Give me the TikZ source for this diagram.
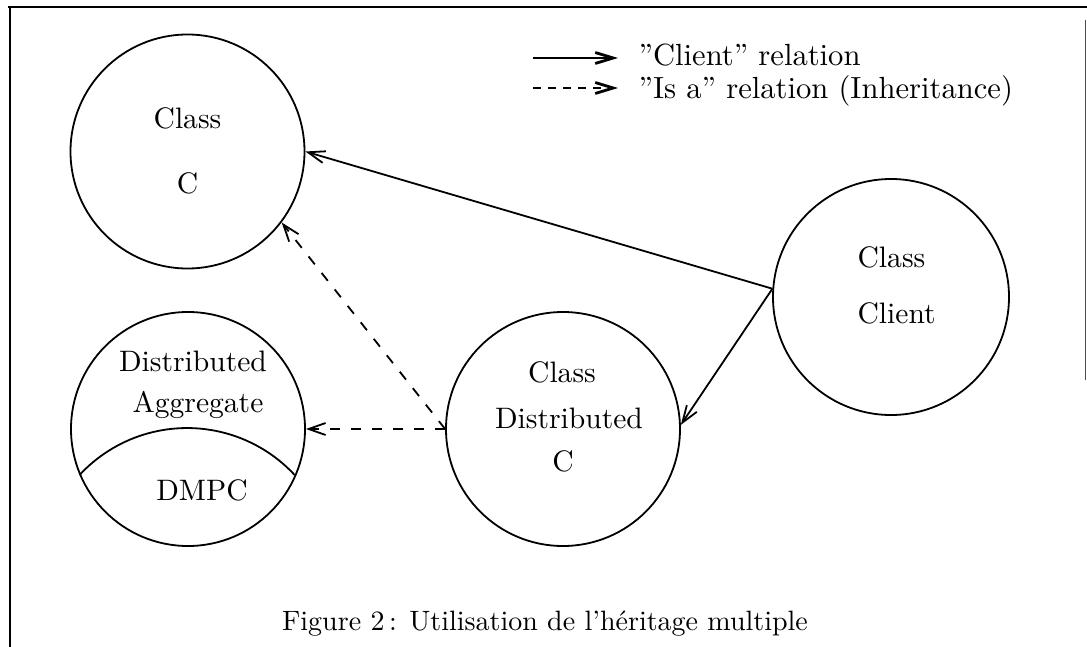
\documentclass[tikz,border=0pt]{standalone}
\usetikzlibrary{arrows.meta}
\begin{document}
\begin{tikzpicture}[x=0.5pt,y=-0.5pt,
  font=\fontsize{10}{12}\selectfont,
  cls/.style={circle,draw,line width=0.9pt,minimum size=117pt,inner sep=0pt},
  lbl/.style={anchor=base,inner sep=0pt,scale=1.48},
  client/.style={line width=0.9pt,-{Straight Barb[length=8.5pt,width=6pt]}},
  isa/.style={line width=0.9pt,dash pattern=on 5pt off 5.5pt,-{Straight Barb[length=8.5pt,width=6pt]}},
  legclient/.style={line width=1pt,-{Straight Barb[length=9pt,width=5.5pt,line width=1.4pt]}},
  legisa/.style={line width=1pt,dash pattern=on 4pt off 3.5pt,-{Straight Barb[length=9pt,width=5.5pt,line width=1.4pt]}},
  legtxt/.style={anchor=base west,inner sep=0pt,scale=1.53}]
\useasboundingbox (0,0) rectangle (1087,647);
% frame
\draw[line width=1pt] (8,7) -- (1087,7);
\draw[line width=0.8pt] (10,7) -- (10,647);
\draw[line width=0.5pt,black!70] (1085,20) -- (1085,380);
% class nodes
\node[cls] (cC) at (187.5,151.5) {};
\node[cls,minimum size=118pt] (cClient) at (891,297) {};
\node[cls] (cDA) at (188,429) {};
\node[cls] (cDC) at (563,429) {};
% texts
\node[lbl] (tC1) at (187.5,128) {Class};
\node[lbl] (tC2) at (187.5,193) {C};
\node[lbl,anchor=base west] (tCl1) at (857,267) {Class};
\node[lbl,anchor=base west] (tCl2) at (857,323) {Client};
\node[lbl] (tDC1) at (562,382) {Class};
\node[lbl] (tDC2) at (569,428) {Distributed};
\node[lbl] (tDC3) at (563,471) {C};
\node[lbl] (tDA1) at (193,371) {Distributed};
\node[lbl] (tDA2) at (198,412) {Aggregate};
\node[lbl] (tDA3) at (202,500) {DMPC};
% DMPC arc
\draw[line width=0.9pt] (cDA.203.1) arc[start angle=137.2,end angle=42.8,radius=73.35pt];
% relations
\draw[client] (cClient.176.6) -- (cC.east);
\draw[client] (cClient.176.6) -- (cDC.2);
\draw[isa] (cDC.west) -- (cC.-37);
\draw[isa] (cDC.west) -- (cDA.east);
% legend
\coordinate (l1a) at (533,58);
\coordinate (l1b) at (618,58);
\coordinate (l2a) at (533,88);
\coordinate (l2b) at (618,88);
\draw[legclient] (l1a) -- (l1b);
\draw[legisa] (l2a) -- (l2b);
\node[legtxt] (leg1) at (638,66) {"Client" relation};
\node[legtxt] (leg2) at (638,98) {"Is a" relation (Inheritance)};
% caption
\node[lbl,scale=1.40/1.48] (cap) at (545,630) {Figure 2\,: Utilisation de l'h\'eritage multiple};
\end{tikzpicture}
\end{document}
